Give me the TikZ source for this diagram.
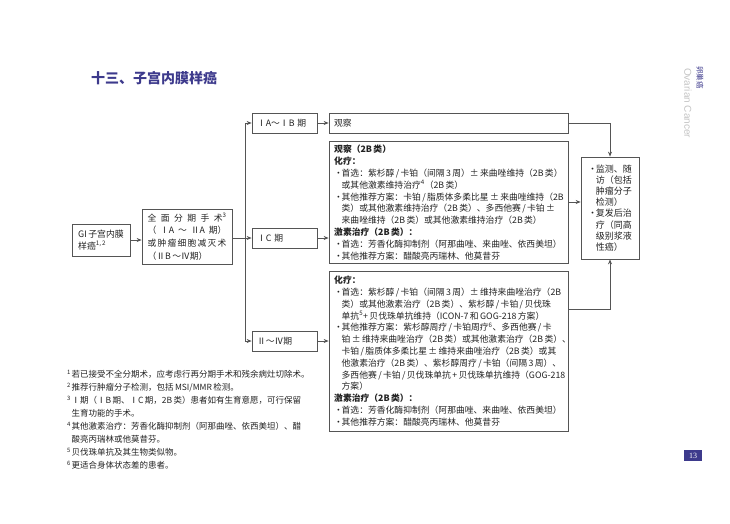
\documentclass[tikz,border=0pt]{standalone}
\usepackage{fontspec}
\setmainfont{Noto Sans CJK SC}[WordSpace=0.7]
\newfontfamily\latsans{Liberation Sans}
\newfontfamily\latserif{Liberation Serif}
\usetikzlibrary{arrows.meta}
\definecolor{ttl}{HTML}{3D3A8C}
\definecolor{bx}{HTML}{555555}
\definecolor{tx}{HTML}{222222}
\definecolor{sidegray}{HTML}{C4C4C4}
\newcommand\bl{\makebox[0.85em][l]{·}}
\newcommand\ind{\hspace*{0.85em}}
\newcommand\fs[1]{\textsuperscript{#1}}
\newcommand\fn[1]{\makebox[4.5pt][l]{\textsuperscript{#1}}}
\begin{document}
\begin{tikzpicture}[x=1pt,y=-1pt,
  frame/.style={draw=bx, line width=0.75pt, inner sep=0pt},
  conn/.style={draw=bx, line width=0.75pt},
  arr/.style={conn, -{Stealth[length=5pt,width=4pt]}},
  body/.style={inner sep=0pt, anchor=north west, align=left, text=tx, font=\fontsize{8.8}{11.8}\selectfont},
  small/.style={frame, minimum width=65pt, minimum height=20pt, text width=55pt, inner xsep=5pt, align=left, text=tx, font=\fontsize{8.8}{10}\selectfont},
]
\useasboundingbox (0,0) rectangle (730,524);

% title and page decorations
\node[anchor=west, inner sep=0pt, font=\bfseries\fontsize{14}{14}\selectfont, text=ttl] (title) at (91,78) {十三、子宫内膜样癌};
\node[rotate=-90, anchor=west, inner sep=0pt, font=\fontsize{7.5}{8}\selectfont, text=ttl] (side1) at (700,66) {卵巢癌};
\node[rotate=-90, anchor=west, inner sep=0pt, text=sidegray, font=\latsans\fontsize{10}{10}\selectfont] (side2) at (688,68) {Ovarian Cancer};
\node[fill=ttl, text=white, minimum width=18pt, minimum height=11pt, inner sep=0pt, font=\latserif\fontsize{8}{8}\selectfont] (pg) at (693,455.5) {13};

% left boxes
\node[frame, minimum width=58pt, minimum height=32pt, align=left, text=tx, font=\fontsize{8.9}{12}\selectfont] (gi) at (101,240) {GI 子宫内膜\\样癌\fs{1, 2}};
\node[frame, minimum width=90pt, minimum height=55pt] (full) at (187,236.5) {};
\node[inner sep=0pt, align=left, text=tx, font=\fontsize{8.8}{12.7}\selectfont] (fulltxt) at (full) {%
\hbox to 79pt{全\hfil 面\hfil 分\hfil 期\hfil 手\hfil 术\fs{3}}\\
\hbox to 79pt{（\hfil ⅠA\hfil ～\hfil ⅡA\hfil 期）}\\
\hbox to 79pt{或\hfil 肿\hfil 瘤\hfil 细\hfil 胞\hfil 减\hfil 灭\hfil 术}\\
\hbox to 79pt{（ⅡB ～Ⅳ期）\hfil}};

% stage boxes
\node[small] (ia) at (284.5,123) {ⅠA～ⅠB 期};
\node[small] (ic) at (284.5,238) {ⅠC 期};
\node[small] (iiiv) at (284.5,341) {Ⅱ～Ⅳ期};

% treatment boxes
\node[frame, minimum width=239pt, minimum height=20pt, text width=229pt, inner xsep=5pt, align=left, text=tx, font=\fontsize{8.8}{10}\selectfont] (obs) at (448.5,123) {观察};
\node[frame, minimum width=239pt, minimum height=122pt] (mid) at (448.5,202) {};
\node[body] (midtxt) at (334,145) {%
\textbf{观察（2B 类）}\\
\textbf{化疗：}\\
\bl 首选：紫杉醇 / 卡铂（间隔 3 周）± 来曲唑维持（2B 类）\\
\ind 或其他激素维持治疗\fs{4}（2B 类）\\
\bl 其他推荐方案：卡铂 / 脂质体多柔比星 ± 来曲唑维持（2B\\
\ind 类）或其他激素维持治疗（2B 类）、多西他赛 / 卡铂 ±\\
\ind 来曲唑维持（2B 类）或其他激素维持治疗（2B 类）\\
\textbf{激素治疗（2B 类）：}\\
\bl 首选：芳香化酶抑制剂（阿那曲唑、来曲唑、依西美坦）\\
\bl 其他推荐方案：醋酸亮丙瑞林、他莫昔芬};
\node[frame, minimum width=239pt, minimum height=160pt] (low) at (448.5,351) {};
\node[body] (lowtxt) at (334,276) {%
\textbf{化疗：}\\
\bl 首选：紫杉醇 / 卡铂（间隔 3 周）± 维持来曲唑治疗（2B\\
\ind 类）或其他激素治疗（2B 类）、紫杉醇 / 卡铂 / 贝伐珠\\
\ind 单抗\fs{5}+ 贝伐珠单抗维持（ICON-7 和 GOG-218 方案）\\
\bl 其他推荐方案：紫杉醇周疗 / 卡铂周疗\fs{6}、多西他赛 / 卡\\
\ind 铂 ± 维持来曲唑治疗（2B 类）或其他激素治疗（2B 类）、\\
\ind 卡铂 / 脂质体多柔比星 ± 维持来曲唑治疗（2B 类）或其\\
\ind 他激素治疗（2B 类）、紫杉醇周疗 / 卡铂（间隔 3 周）、\\
\ind 多西他赛 / 卡铂 / 贝伐珠单抗 + 贝伐珠单抗维持（GOG-218\\
\ind 方案）\\
\textbf{激素治疗（2B 类）：}\\
\bl 首选：芳香化酶抑制剂（阿那曲唑、来曲唑、依西美坦）\\
\bl 其他推荐方案：醋酸亮丙瑞林、他莫昔芬};

% follow-up box
\node[frame, minimum width=58pt, minimum height=102pt] (fu) at (610,208) {};
\node[inner sep=0pt, align=left, text=tx, font=\fontsize{9}{11.1}\selectfont] (futxt) at (fu) {%
\bl 监测、随\\ \ind 访（包括\\ \ind 肿瘤分子\\ \ind 检测）\\
\bl 复发后治\\ \ind 疗（同高\\ \ind 级别浆液\\ \ind 性癌）};

% footnotes
\node[inner sep=0pt, anchor=north west, align=left, text=tx, font=\fontsize{8.5}{13}\selectfont] (notes) at (67,370) {%
\fn{1}若已接受不全分期术，应考虑行再分期手术和残余病灶切除术。\\
\fn{2}推荐行肿瘤分子检测，包括 MSI/MMR 检测。\\
\fn{3}Ⅰ期（ⅠB 期、ⅠC 期，2B 类）患者如有生育意愿，可行保留\\
\hspace*{4.5pt}生育功能的手术。\\
\fn{4}其他激素治疗：芳香化酶抑制剂（阿那曲唑、依西美坦）、醋\\
\hspace*{4.5pt}酸亮丙瑞林或他莫昔芬。\\
\fn{5}贝伐珠单抗及其生物类似物。\\
\fn{6}更适合身体状态差的患者。};

% connectors
\coordinate (sp) at (245,238);
\draw[arr] (gi.east) -- (gi.east -| full.west);
\draw[conn] (full.east |- sp) -- (sp);
\draw[arr] (sp) |- (ia.west);
\draw[arr] (sp) -- (ic.west);
\draw[arr] (sp) |- (iiiv.west);
\draw[arr] (ia.east) -- (obs.west);
\draw[arr] (ic.east) -- (ic.east -| mid.west);
\draw[arr] (iiiv.east) -- (iiiv.east -| low.west);
\draw[arr] (obs.east) -| (fu.north);
\draw[arr] (mid.east) -- (mid.east -| fu.west);
\draw[arr] ([yshift=42pt]low.east) -| (fu.south);
\end{tikzpicture}
\end{document}
